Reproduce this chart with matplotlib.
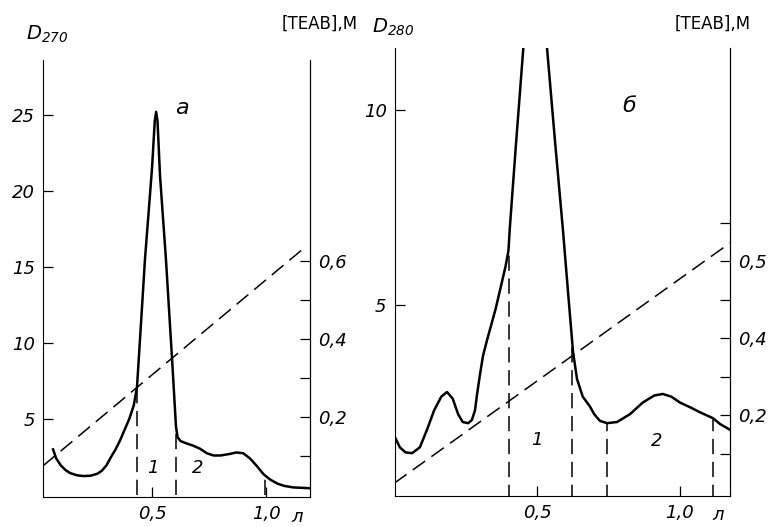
import matplotlib
matplotlib.use("Agg")
import matplotlib.pyplot as plt
import numpy as np

plt.rcParams['font.family'] = ['DejaVu Sans']
plt.rcParams['font.style'] = 'italic'
plt.rcParams['mathtext.fontset'] = 'dejavusans'

# panel a: D270 vs volume (l)
xa = [0.066, 0.08, 0.10, 0.12, 0.14, 0.17, 0.20, 0.23, 0.26, 0.28, 0.30, 0.32,
      0.34, 0.36, 0.38, 0.40, 0.42, 0.434, 0.45, 0.469, 0.50, 0.512, 0.518,
      0.524, 0.535, 0.561, 0.588, 0.605, 0.612, 0.625, 0.65, 0.68, 0.71, 0.74,
      0.77, 0.80, 0.84, 0.87, 0.90, 0.93, 0.96, 0.99, 1.02, 1.05, 1.08, 1.12, 1.19]
da = [3.0, 2.4, 1.95, 1.65, 1.45, 1.3, 1.25, 1.27, 1.4, 1.6, 1.95, 2.5,
      3.0, 3.6, 4.3, 5.0, 5.9, 7.1, 10.9, 15.5, 21.5, 24.6, 25.2,
      24.6, 21.0, 15.5, 8.9, 4.5, 3.8, 3.55, 3.4, 3.25, 3.05, 2.75,
      2.6, 2.6, 2.7, 2.8, 2.75, 2.4, 1.9, 1.35, 1.0, 0.75, 0.6, 0.5, 0.45]
teab_a_x = [0.022, 1.16]
teab_a = [0.075, 0.63]
cuts_a = [0.434, 0.605, 0.995]

# panel b: D280 vs volume (l)
xb = [0.0035, 0.02, 0.04, 0.063, 0.09, 0.115, 0.14, 0.165, 0.185, 0.205, 0.224,
      0.24, 0.259, 0.272, 0.283, 0.29, 0.30, 0.311, 0.325, 0.34, 0.355, 0.371,
      0.39, 0.40, 0.405, 0.425, 0.451, 0.491, 0.535, 0.563, 0.591, 0.61, 0.626,
      0.64, 0.66, 0.685, 0.70, 0.72, 0.745, 0.78, 0.825, 0.87, 0.91, 0.94, 0.97,
      1.0, 1.035, 1.07, 1.115, 1.14, 1.175]
db = [1.6, 1.35, 1.22, 1.2, 1.35, 1.8, 2.3, 2.65, 2.77, 2.6, 2.2,
      2.0, 1.97, 2.05, 2.3, 2.7, 3.2, 3.7, 4.1, 4.5, 4.9, 5.4,
      6.0, 6.4, 7.0, 9.0, 11.5, 15.3, 11.6, 9.2, 6.9, 5.2, 3.8,
      3.1, 2.65, 2.4, 2.2, 2.03, 1.97, 2.0, 2.2, 2.5, 2.68, 2.72, 2.65,
      2.5, 2.38, 2.25, 2.1, 1.95, 1.8]
teab_b_x = [0.0, 1.175]
teab_b = [0.023, 0.647]
cuts_b = [0.403, 0.622, 0.745, 1.115]

fig = plt.figure(figsize=(7.74, 5.27), dpi=100)
ax1 = fig.add_axes([0.0556, 0.0569, 0.345, 0.829])
ax2 = fig.add_axes([0.5103, 0.0588, 0.4328, 0.850])

dash = (0, (10, 5))
fs = 13


def style(ax, tw):
    ax.spines['top'].set_visible(False)
    tw.spines['top'].set_visible(False)
    tw.spines['left'].set_visible(False)
    tw.spines['bottom'].set_visible(False)
    for a in (ax, tw):
        a.tick_params(direction='in', length=7, width=0.9, labelsize=fs, pad=6)
    ax.tick_params(axis='x', pad=6)


# ---- panel a
tw1 = ax1.twinx()
ax1.plot(xa, da, color='black', lw=1.8, solid_joinstyle='round')
for c in cuts_a:
    ax1.plot([c, c], [0, np.interp(c, xa, da)], color='black', lw=1.1, linestyle=dash)
tw1.plot(teab_a_x, teab_a, color='black', lw=1.1, linestyle=dash)
ax1.set_xlim(0.022, 1.193)
ax1.set_ylim(-0.13, 28.6)
tw1.set_ylim(-0.005, 1.115)
ax1.set_xticks([0.5, 1.0], ['0,5', '1,0'])
ax1.set_yticks([5, 10, 15, 20, 25], ['5', '10', '15', '20', '25'])
tw1.set_yticks([0.1, 0.2, 0.3, 0.4, 0.5, 0.6], ['', '0,2', '', '0,4', '', '0,6'])
style(ax1, tw1)
ax1.text(0.52, 0.89, 'а', transform=ax1.transAxes, fontsize=16, ha='center', va='center')
ax1.text(0.505, 1.8, '1', fontsize=fs, ha='center', va='center')
ax1.text(0.70, 1.8, '2', fontsize=fs, ha='center', va='center')

# ---- panel b
tw2 = ax2.twinx()
ax2.plot(xb, db, color='black', lw=1.8, solid_joinstyle='round')
for c in cuts_b:
    ax2.plot([c, c], [0, np.interp(c, xb, db)], color='black', lw=1.1, linestyle=dash)
tw2.plot(teab_b_x, teab_b, color='black', lw=1.1, linestyle=dash)
ax2.set_xlim(0.003, 1.175)
ax2.set_ylim(0.1, 11.6)
tw2.set_ylim(-0.01, 1.153)
ax2.set_xticks([0.5, 1.0], ['0,5', '1,0'])
ax2.set_yticks([5, 10], ['5', '10'])
tw2.set_yticks([0.1, 0.2, 0.3, 0.4, 0.5, 0.6, 0.7], ['', '0,2', '', '0,4', '', '0,5', ''])
style(ax2, tw2)
ax2.text(0.7, 0.87, 'б', transform=ax2.transAxes, fontsize=16, ha='center', va='center')
ax2.text(0.50, 1.55, '1', fontsize=fs, ha='center', va='center')
ax2.text(0.92, 1.5, '2', fontsize=fs, ha='center', va='center')

# axis titles
fig.text(0.034, 0.935, r'$D_{270}$', fontsize=14, va='center')
fig.text(0.364, 0.955, '[TEAB],M', fontsize=12, style='normal', va='center')
fig.text(0.481, 0.948, r'$D_{280}$', fontsize=14, va='center')
fig.text(0.872, 0.955, '[TEAB],M', fontsize=12, style='normal', va='center')
fig.text(0.384, 0.019, 'л', fontsize=fs, va='center', ha='center')
fig.text(0.928, 0.022, 'л', fontsize=fs, va='center', ha='center')

fig.savefig('out.png', dpi=100)
